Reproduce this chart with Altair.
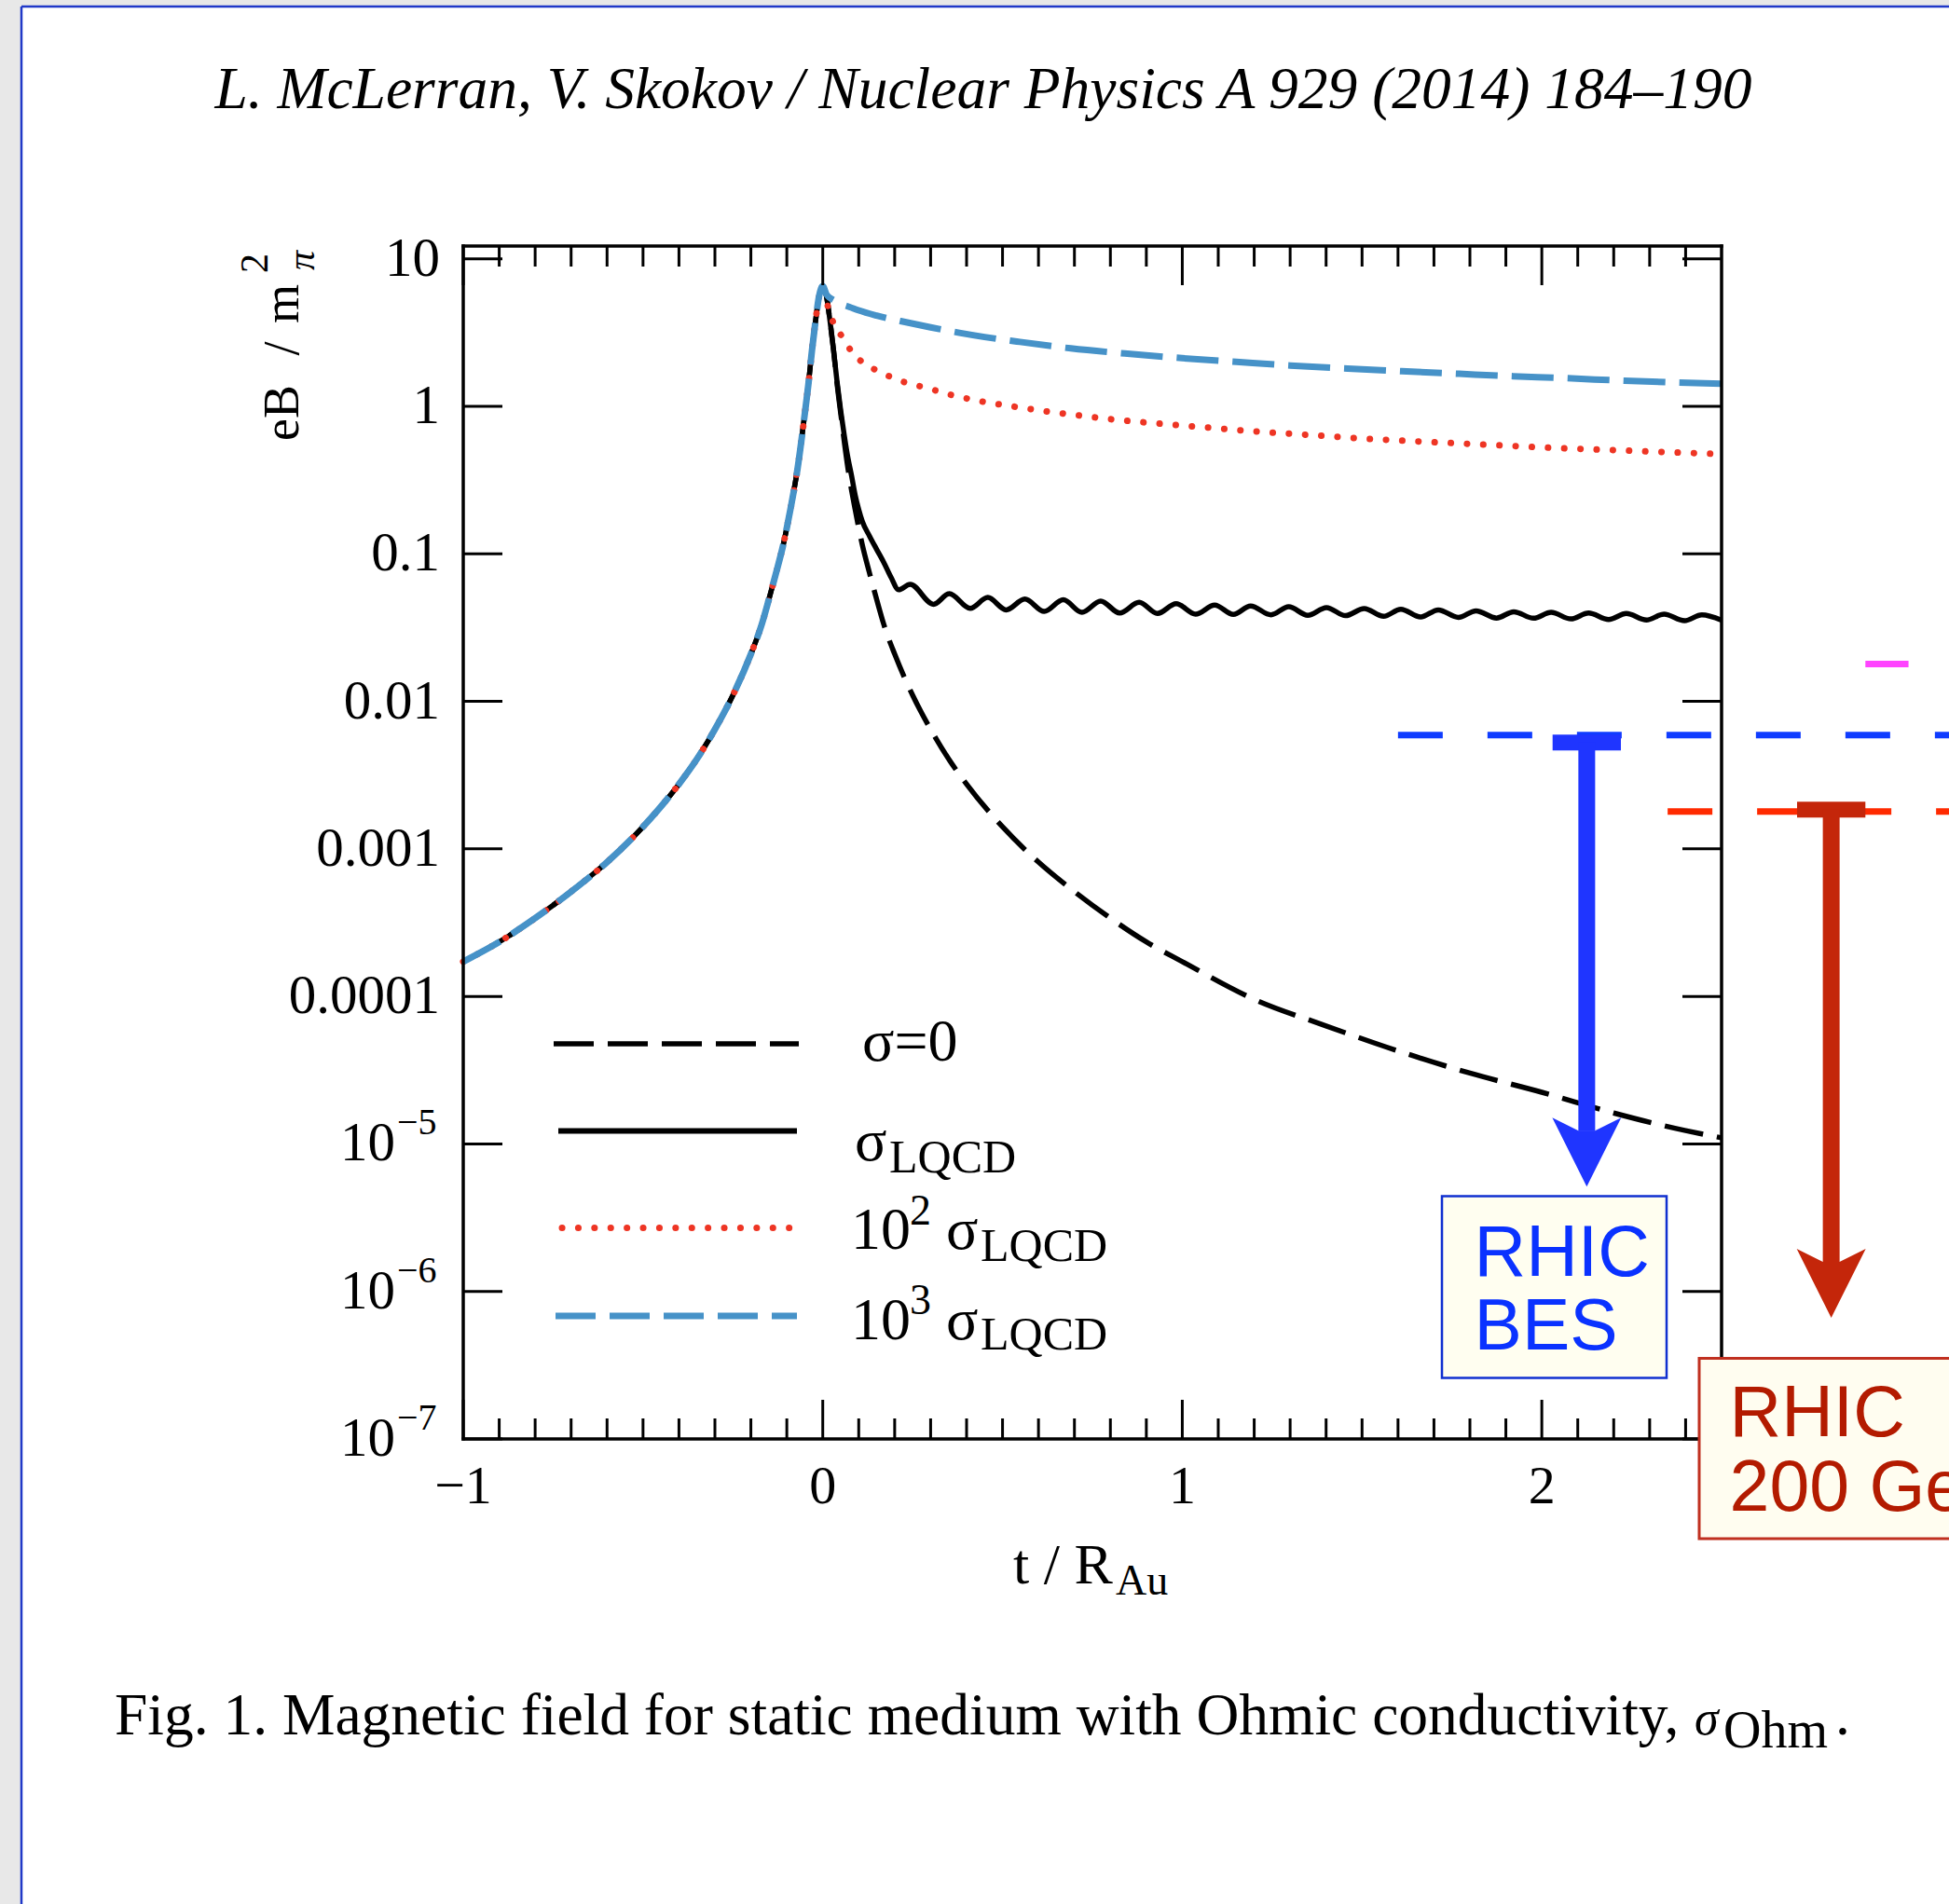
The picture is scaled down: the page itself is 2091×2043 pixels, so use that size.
import altair as alt
import pandas as pd

# ---------------- layout ----------------
W, H = 1350, 1280
PAD = {"left": 497, "top": 264, "right": 244, "bottom": 499}
X_DOMAIN = [-1.0, 2.5]
Y_DOMAIN = [1e-7, 12.2]

# ---------------- data ----------------
# t < 0 branch: all four curves coincide
T_LEFT = [-1.0, -0.9, -0.8, -0.7, -0.6, -0.5, -0.4, -0.35, -0.3, -0.25, -0.2, -0.17,
          -0.15, -0.13, -0.11, -0.09, -0.07, -0.05, -0.04, -0.03, -0.02, -0.01, 0.0]
B_LEFT = [1.72e-4, 2.34e-4, 3.39e-4, 5.13e-4, 8.13e-4, 1.41e-3, 2.75e-3, 4.07e-3, 6.46e-3,
          0.0110, 0.0209, 0.0331, 0.0490, 0.0741, 0.115, 0.200, 0.380, 0.891, 1.41, 2.40,
          3.80, 5.62, 6.52]

# sigma = 0
T_S0 = [0.01, 0.02, 0.03, 0.04, 0.05, 0.07, 0.09, 0.11, 0.13, 0.15, 0.17, 0.2, 0.25, 0.3,
        0.35, 0.4, 0.5, 0.6, 0.7, 0.8, 0.9, 1.0, 1.2, 1.4, 1.6, 1.8, 2.0, 2.2, 2.4, 2.5]
B_S0 = [5.62, 3.80, 2.40, 1.41, 0.891, 0.380, 0.200, 0.115, 0.0741, 0.0490, 0.0331, 0.0209,
        0.0110, 6.46e-3, 4.07e-3, 2.75e-3, 1.41e-3, 8.13e-4, 5.13e-4, 3.39e-4, 2.34e-4,
        1.72e-4, 9.55e-5, 6.31e-5, 4.27e-5, 3.02e-5, 2.24e-5, 1.62e-5, 1.23e-5, 1.10e-5]

# sigma_LQCD (oscillating)
T_LQCD = [0.01, 0.02, 0.03, 0.04, 0.05, 0.06, 0.07, 0.08, 0.09, 0.10, 0.11, 0.13, 0.15, 0.17,
          0.19, 0.211, 0.243, 0.308, 0.352, 0.41, 0.459, 0.51, 0.562, 0.616, 0.669, 0.721,
          0.773, 0.826, 0.88, 0.931, 0.983, 1.037, 1.09, 1.142, 1.19, 1.247, 1.296, 1.349,
          1.401, 1.454, 1.506, 1.56, 1.608, 1.663, 1.712, 1.768, 1.817, 1.874, 1.922, 1.977,
          2.026, 2.081, 2.13, 2.186, 2.235, 2.291, 2.34, 2.397, 2.445, 2.5]
B_LQCD = [5.62, 3.80, 2.40, 1.45, 0.933, 0.631, 0.447, 0.339, 0.251, 0.200, 0.166, 0.132,
          0.107, 0.0871, 0.0692, 0.0571, 0.0621, 0.0455, 0.0537, 0.0427, 0.0506, 0.0417,
          0.0494, 0.0407, 0.0488, 0.0401, 0.0478, 0.0397, 0.0469, 0.0394, 0.0459, 0.0390,
          0.0449, 0.0388, 0.0443, 0.0386, 0.0438, 0.0383, 0.0432, 0.0381, 0.0426, 0.0377,
          0.0421, 0.0373, 0.0417, 0.0371, 0.0411, 0.0367, 0.0405, 0.0366, 0.0401, 0.0362,
          0.0397, 0.0359, 0.0394, 0.0356, 0.0390, 0.0352, 0.0386, 0.0355]

# 10^2 sigma_LQCD
T_1E2 = [0.005, 0.017, 0.033, 0.057, 0.081, 0.109, 0.15, 0.19, 0.23, 0.28, 0.36, 0.45, 0.54,
         0.63, 0.72, 0.8, 0.9, 1.0, 1.1, 1.2, 1.3, 1.4, 1.5, 1.6, 1.7, 1.8, 1.9, 2.0, 2.1,
         2.2, 2.3, 2.4, 2.5]
B_1E2 = [5.89, 4.49, 3.52, 2.90, 2.33, 2.00, 1.75, 1.58, 1.45, 1.35, 1.19, 1.07, 0.989,
         0.918, 0.863, 0.818, 0.776, 0.741, 0.708, 0.676, 0.652, 0.628, 0.605, 0.587, 0.571,
         0.556, 0.541, 0.527, 0.515, 0.505, 0.494, 0.484, 0.474]

# 10^3 sigma_LQCD
T_1E3 = [0.01, 0.02, 0.03, 0.05, 0.075, 0.1, 0.15, 0.235, 0.3, 0.38, 0.45, 0.54, 0.69, 0.84,
         1.0, 1.15, 1.3, 1.46, 1.61, 1.77, 1.92, 2.07, 2.23, 2.5]
B_1E3 = [5.75, 5.43, 5.25, 4.95, 4.71, 4.47, 4.12, 3.70, 3.43, 3.15, 2.95, 2.75, 2.47, 2.28,
         2.12, 2.00, 1.89, 1.80, 1.73, 1.66, 1.60, 1.55, 1.49, 1.42]

# ticks / labels
Y_TICKS = [1e-7, 1e-6, 1e-5, 1e-4, 1e-3, 1e-2, 0.1, 1.0, 10.0]
Y_PLAIN_VALUES = [10.0, 1.0, 0.1, 0.01, 0.001, 1e-4]
Y_PLAIN_LABELS = ["10", "1", "0.1", "0.01", "0.001", "0.0001"]
Y_EXP_VALUES = [1e-5, 1e-6, 1e-7]
Y_EXP_LABELS = ["\u22125", "\u22126", "\u22127"]
X_MAJOR = [-1.0, 0.0, 1.0, 2.0]
X_MAJOR_LABELS = ["\u22121", "0", "1", "2"]
X_MINOR = [-0.9, -0.8, -0.7, -0.6, -0.5, -0.4, -0.3, -0.2, -0.1,
           0.1, 0.2, 0.3, 0.4, 0.5, 0.6, 0.7, 0.8, 0.9,
           1.1, 1.2, 1.3, 1.4, 1.5, 1.6, 1.7, 1.8, 1.9,
           2.1, 2.2, 2.3, 2.4]

# annotation levels (eB / m_pi^2)
BES_LEVEL = 5.9e-3
BES_LINE_X = [1.6, 3.2]
TOP_LEVEL = 1.79e-3
TOP_LINE_X = [2.35, 3.2]
LHC_LEVEL = 0.0179
LHC_LINE_X = [2.90, 3.02]
BES_ARROW = {"x": 2.125, "bar": [2.03, 2.22], "top": 5.26e-3, "end": 1.22e-5, "head": 8.79e-6}
TOP_ARROW = {"x": 2.805, "bar": [2.71, 2.90], "top": 1.845e-3, "end": 1.585e-6, "head": 1.135e-6}

# ---------------- helpers ----------------
XS = alt.Scale(domain=X_DOMAIN, nice=False, zero=False)
YS = alt.Scale(type="log", domain=Y_DOMAIN, nice=False)
ONE = alt.Data(values=[{"a": 1}])
SERIF = "Liberation Serif"
SANS = "Liberation Sans"


def X(f):
    return alt.X(f, type="quantitative", scale=XS, axis=None)


def Y(f):
    return alt.Y(f, type="quantitative", scale=YS, axis=None)


def curve(ts, bs, **kw):
    df = pd.DataFrame({"t": T_LEFT + ts, "b": B_LEFT + bs})
    return alt.Chart(df).mark_line(interpolate="monotone", **kw).encode(x=X("t"), y=Y("b"))


def text(s, x, y, size, font=SERIF, align="left", baseline="alphabetic", color="black",
         style="normal", angle=0, dy=0):
    return alt.Chart(ONE).mark_text(
        text=s, align=align, baseline=baseline, font=font, fontSize=size,
        fontStyle=style, color=color, angle=angle, dy=dy
    ).encode(x=alt.value(x), y=alt.value(y))


def prule(x, x2, y, y2, color="black", width=3.0, **kw):
    return alt.Chart(ONE).mark_rule(color=color, strokeWidth=width, **kw).encode(
        x=alt.value(x), x2=alt.value(x2), y=alt.value(y), y2=alt.value(y2))


def prect(x, x2, y, y2, fill, stroke=None, width=0):
    kw = {"fill": fill}
    if stroke:
        kw["stroke"] = stroke
        kw["strokeWidth"] = width
    return alt.Chart(ONE).mark_rect(**kw).encode(
        x=alt.value(x), x2=alt.value(x2), y=alt.value(y), y2=alt.value(y2))


layers = []

# page border (slide frame)
layers.append(prect(-497, -474, -264, H + 499, "#e8e8e8"))
layers.append(prect(-497, W + 244, -264, -257, "#e8e8e8"))
layers.append(prule(-474, -474, -257, H + 499, color="#2038c8", width=2.5))
layers.append(prule(-474, W + 244, -257, -257, color="#2038c8", width=2.5))

# curves
BLACK = "#000000"
RED = "#ee3524"
BLUE = "#4692c8"
layers.append(curve(T_S0, B_S0, color=BLACK, strokeWidth=5.5, strokeDash=[42, 15]))
layers.append(curve(T_LQCD, B_LQCD, color=BLACK, strokeWidth=5.5))
layers.append(curve(T_1E2, B_1E2, color=RED, strokeWidth=7, strokeDash=[0.1, 17.3],
                    strokeCap="round"))
layers.append(curve(T_1E3, B_1E3, color=BLUE, strokeWidth=7, strokeDash=[45, 15]))

# frame
FW = 3.5
layers.append(prule(0, 0, 0, H, width=FW, strokeCap="square"))
layers.append(prule(W, W, 0, H, width=FW, strokeCap="square"))
layers.append(prule(0, W, 0, 0, width=FW, strokeCap="square"))
layers.append(prule(0, W, H, H, width=FW, strokeCap="square"))

# ticks (inward)
ytick = pd.DataFrame({"v": Y_TICKS})
layers.append(alt.Chart(ytick).mark_rule(color="black", strokeWidth=3).encode(
    y=Y("v"), x=alt.value(0), x2=alt.value(42)))
layers.append(alt.Chart(ytick).mark_rule(color="black", strokeWidth=3).encode(
    y=Y("v"), x=alt.value(W - 42), x2=alt.value(W)))
xmaj = pd.DataFrame({"t": X_MAJOR, "lab": X_MAJOR_LABELS})
xmin = pd.DataFrame({"t": X_MINOR})
for df, ln in ((xmaj, 42), (xmin, 22)):
    layers.append(alt.Chart(df).mark_rule(color="black", strokeWidth=3).encode(
        x=X("t"), y=alt.value(H), y2=alt.value(H - ln)))
    layers.append(alt.Chart(df).mark_rule(color="black", strokeWidth=3).encode(
        x=X("t"), y=alt.value(0), y2=alt.value(ln)))

# tick labels
layers.append(alt.Chart(xmaj).mark_text(font=SERIF, fontSize=58, align="center",
                                        baseline="alphabetic", color="black").encode(
    x=X("t"), y=alt.value(1349), text="lab:N"))
yplain = pd.DataFrame({"v": Y_PLAIN_VALUES, "lab": Y_PLAIN_LABELS})
layers.append(alt.Chart(yplain).mark_text(font=SERIF, fontSize=59, align="right",
                                          baseline="middle", color="black").encode(
    y=Y("v"), x=alt.value(-25), text="lab:N"))
yexp = pd.DataFrame({"v": Y_EXP_VALUES, "lab": Y_EXP_LABELS, "base": ["10"] * 3})
layers.append(alt.Chart(yexp).mark_text(font=SERIF, fontSize=59, align="right",
                                        baseline="middle", color="black").encode(
    y=Y("v"), x=alt.value(-73), text="base:N"))
layers.append(alt.Chart(yexp).mark_text(font=SERIF, fontSize=40, align="left",
                                        baseline="alphabetic", color="black", dy=-10).encode(
    y=Y("v"), x=alt.value(-71), text="lab:N"))

# axis titles
layers.append(text("eB", -177, 209, 54, angle=270))
layers.append(text("/", -177, 110, 54, angle=270, align="center"))
layers.append(text("m", -177, 83, 54, angle=270))
layers.append(text("\u03c0", -160, 26, 42, angle=270, style="italic"))
layers.append(text("2", -210, 29, 42, angle=270))
layers.append(text("t / R", 590, 1435, 62))
layers.append(text("Au", 700, 1447, 46))

# header and caption
layers.append(text("L. McLerran, V. Skokov / Nuclear Physics A 929 (2014) 184\u2013190",
                   558, -148, 63.5, align="center", style="italic"))
layers.append(text("Fig. 1. Magnetic field for static medium with Ohmic conductivity,",
                   -374, 1597, 63.5))
layers.append(text("\u03c3", 1321, 1597, 52, style="italic"))
layers.append(text("Ohm", 1352, 1611, 56))
layers.append(text(".", 1472, 1597, 63.5))

# legend
layers.append(prule(97, 360, 856, 856, color=BLACK, width=5.5, strokeDash=[43, 15]))
layers.append(prule(102, 358, 949.5, 949.5, color=BLACK, width=6))
layers.append(prule(106, 352, 1053.5, 1053.5, color=RED, width=7, strokeDash=[0.1, 17.3],
                    strokeCap="round"))
layers.append(prule(99, 358, 1148, 1148, color=BLUE, width=7, strokeDash=[43, 15]))
LEG = 64
SUB = 50
SUP = 46
layers.append(text("\u03c3=0", 428, 874, LEG))
layers.append(text("\u03c3", 420, 981, LEG))
layers.append(text("LQCD", 457, 994, SUB))
layers.append(text("10", 416, 1076, LEG))
layers.append(text("2", 479, 1050, SUP))
layers.append(text("\u03c3", 518, 1076, LEG))
layers.append(text("LQCD", 555, 1089, SUB))
layers.append(text("10", 416, 1173, LEG))
layers.append(text("3", 479, 1146, SUP))
layers.append(text("\u03c3", 518, 1173, LEG))
layers.append(text("LQCD", 555, 1184, SUB))


# annotations (outside/over the frame)
def hline(level, xs, color, width, dash=None):
    df = pd.DataFrame({"x1": [xs[0]], "x2": [xs[1]], "y": [level]})
    kw = {"color": color, "strokeWidth": width}
    if dash:
        kw["strokeDash"] = dash
    return alt.Chart(df).mark_rule(**kw).encode(x=X("x1"), x2="x2:Q", y=Y("y"))


def arrow(a, color):
    out = []
    bar = pd.DataFrame({"x1": [a["bar"][0]], "x2": [a["bar"][1]], "y": [a["top"]]})
    out.append(alt.Chart(bar).mark_rule(color=color, strokeWidth=17).encode(
        x=X("x1"), x2="x2:Q", y=Y("y")))
    shaft = pd.DataFrame({"x": [a["x"]], "y1": [a["top"]], "y2": [a["end"]]})
    out.append(alt.Chart(shaft).mark_rule(color=color, strokeWidth=18).encode(
        x=X("x"), y=Y("y1"), y2="y2:Q"))
    head = pd.DataFrame({"x": [a["x"]], "y": [a["head"]]})
    out.append(alt.Chart(head).mark_point(
        shape="M-1,-1L-0.24,-0.62L0.24,-0.62L1,-1L0,1Z", filled=True, opacity=1,
        size=74 * 74, color=color, strokeWidth=0).encode(x=X("x"), y=Y("y")))
    return out


layers.append(hline(LHC_LEVEL, LHC_LINE_X, "#ff44ff", 7))
layers.append(hline(BES_LEVEL, BES_LINE_X, "#0f3cff", 7, dash=[48, 48]))
layers.append(hline(TOP_LEVEL, TOP_LINE_X, "#ff2a00", 7, dash=[48, 48]))
layers += arrow(BES_ARROW, "#1f35ff")
layers += arrow(TOP_ARROW, "#c4260a")

layers.append(prect(1050, 1291, 1019.6, 1214.5, "#fffef0", "#1030d0", 2.5))
layers.append(text("RHIC", 1084.6, 1104.7, 77, font=SANS, color="#0a32ff"))
layers.append(text("BES", 1084.6, 1184.4, 77, font=SANS, color="#0a32ff"))
layers.append(prect(1326, 1610, 1193.5, 1387, "#fffdf0", "#c03020", 3))
layers.append(text("RHIC", 1358.6, 1277, 77, font=SANS, color="#b31b00"))
layers.append(text("200 GeV", 1358.6, 1357, 77, font=SANS, color="#b31b00"))

chart = alt.layer(*layers).properties(
    width=W, height=H, padding=PAD,
    autosize=alt.AutoSizeParams(type="none"),
    background="white",
).configure_view(strokeWidth=0)

chart.save("out.html", embed_options={"renderer": "svg", "actions": False})
